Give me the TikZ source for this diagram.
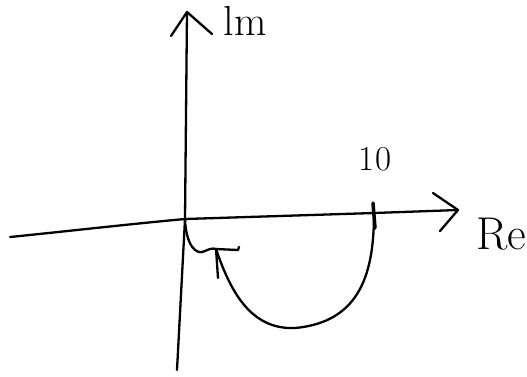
\documentclass[tikz,border=0pt]{standalone}
\usepackage{fontspec}
\begin{document}
\begin{tikzpicture}[x=1pt,y=-1pt,
  ink/.style={line width=2.3pt, line cap=round, line join=round, black},
  lbl/.style={inner sep=0pt, font=\fontsize{42}{42}\selectfont}]
\useasboundingbox (0,0) rectangle (527,376);
% axes
\coordinate (O) at (185,219);
\coordinate (ytop) at (187,12);
\coordinate (ybot) at (177,370);
\coordinate (xl) at (10,237);
\coordinate (T) at (374,213);
\coordinate (xr) at (458,210);
\coordinate (A) at (216,249);
\draw[ink] (ybot) -- (O) -- (ytop);
\draw[ink] (171,36) -- (ytop) -- (212,34);
\draw[ink] (xl) .. controls (60,232) and (130,224) .. (O) -- (T) -- (xr);
\draw[ink] (433,193) -- (xr) -- (440,231);
\draw[ink, line width=3.5pt] (373,203) -- (375,228);
% Nyquist curve
\draw[ink] (T) .. controls (374,270) and (362,322) .. (295,328)
  .. controls (250,330) and (230,290) .. (A);
\draw[ink] (O) .. controls (186,245) and (196,256) .. (205,251)
  .. controls (209,249) and (213,248) .. (A);
\draw[ink] (A) -- (218,278);
\draw[ink] (A) -- (238,250) -- (239,247);
% labels
\node[lbl] (im) at (245,21) {lm};
\node[lbl, font=\fontsize{35}{35}\selectfont] (ten) at (375,159) {10};
\node[lbl, font=\fontsize{46}{46}\selectfont] (re) at (501,234) {Re};
\end{tikzpicture}
\end{document}
